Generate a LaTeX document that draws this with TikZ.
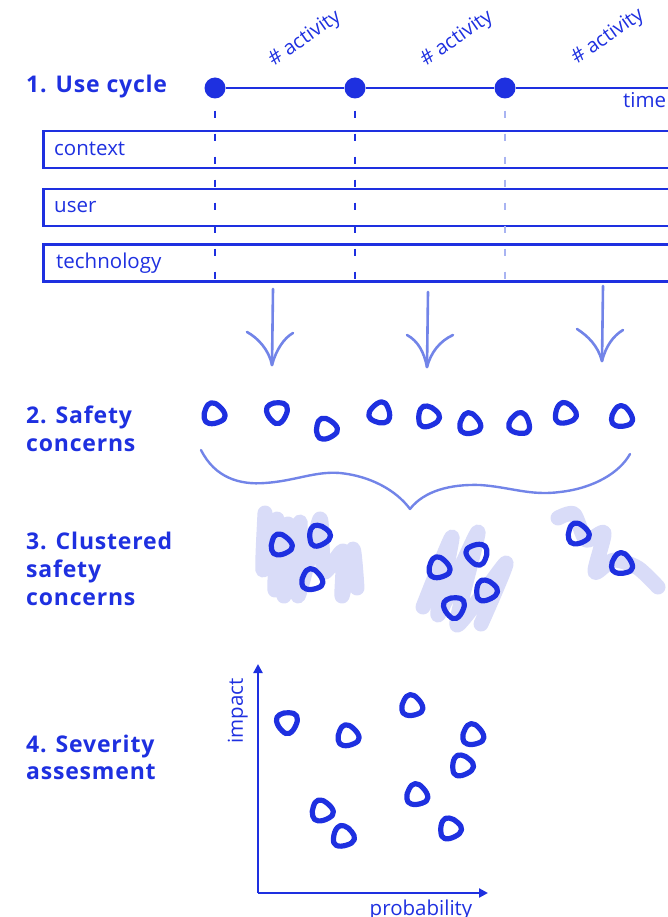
\documentclass[tikz,border=0pt]{standalone}
\usepackage{fontspec}
\setmainfont{Open Sans}
\usetikzlibrary{arrows.meta}
\definecolor{ink}{HTML}{1E30E0}
\definecolor{softink}{HTML}{7284E8}
\definecolor{paleink}{HTML}{A9B4F2}
\definecolor{haze}{HTML}{D9DCF8}
\begin{document}
\begin{tikzpicture}[x=1pt,y=-1pt,
  heading/.style={anchor=base west, inner sep=0pt, text=ink,
    font=\bfseries\fontsize{23}{28}\selectfont\addfontfeatures{LetterSpace=3.5}},
  plain/.style={inner sep=0pt, text=ink, font=\fontsize{20.5}{24}\selectfont},
  slanted/.style={plain, rotate=35, font=\fontsize{20}{24}\selectfont},
  dot/.style={circle, fill=ink, minimum size=21pt, inner sep=0pt},
  timeline/.style={draw=ink, line width=2.5pt},
  lanebox/.style={draw=ink, line width=2.5pt, minimum width=680pt,
    minimum height=37pt, anchor=north west, inner sep=0pt},
  tick/.style={draw=ink, line width=1.4pt, dash pattern=on 7pt off 16pt},
  paletick/.style={tick, draw=paleink},
  flow/.style={draw=softink, line width=2.6pt, line cap=round, line join=round},
  scribble/.style={draw=haze, line width=15pt, line cap=round, line join=round},
  blobline/.style={draw=ink, line width=5.2pt, line cap=round, line join=round},
  blob/.pic={\draw[blobline] plot[smooth cycle, tension=0.75] coordinates
    {(-1,-10.5) (6.5,-5.5) (10.5,4.5) (4.5,9.5) (-6.5,9.5) (-10.5,3.5) (-7.5,-5.5)};},
  axis/.style={draw=ink, line width=2.4pt,
    -{Triangle[length=9pt,width=9pt]}}
]
\clip (0,0) rectangle (668,917);

% ---------- 1. use cycle ----------
\node[heading] (h1) at (26,93) {1. Use cycle};

\node[dot] (d1) at (215,88) {};
\node[dot] (d2) at (355,88) {};
\node[dot] (d3) at (505,88) {};
\coordinate (tend) at (690,88);
\draw[timeline] (d1) -- (d2) -- (d3) -- (tend);
\node[plain, anchor=base west] (time) at (623,108) {time};

\node[slanted] (a1) at (305,39) {\# activity};
\node[slanted] (a2) at (457,39) {\# activity};
\node[slanted] (a3) at (608,37) {\# activity};

\node[lanebox] (ctx) at (42,130) {};
\node[lanebox] (usr) at (42,188) {};
\node[lanebox] (tech) at (42,243) {};
\node[plain, anchor=base west] (lctx) at (54,156) {context};
\node[plain, anchor=base west] (lusr) at (54,213) {user};
\node[plain, anchor=base west] (ltech) at (56,268) {technology};

\coordinate (t1) at (215,282);
\coordinate (t2) at (355,282);
\coordinate (t3) at (505,282);
\draw[tick] ([yshift=-12pt]d1.south) -- (t1);
\draw[tick] ([yshift=-12pt]d2.south) -- (t2);
\draw[paletick] ([yshift=-12pt]d3.south) -- (t3);

% ---------- downward arrows ----------
\coordinate (f1) at (273,289); \coordinate (g1) at (272,365);
\coordinate (f2) at (428,292); \coordinate (g2) at (427,367);
\coordinate (f3) at (603,286); \coordinate (g3) at (602,361);
\draw[flow] (f1) -- (g1);
\draw[flow] (247,332) .. controls (258,338) and (269,350) .. (g1)
            .. controls (276,350) and (284,338) .. (293,333);
\draw[flow] (f2) -- (g2);
\draw[flow] (407,335) .. controls (418,341) and (424,352) .. (g2)
            .. controls (431,352) and (440,341) .. (453,335);
\draw[flow] (f3) -- (g3);
\draw[flow] (577,329) .. controls (588,336) and (598,346) .. (g3)
            .. controls (606,346) and (613,336) .. (623,330);

% ---------- 2. safety concerns ----------
\node[heading] (h2a) at (26,423) {2. Safety};
\node[heading] (h2b) at (26,451) {concerns};

\pic[rotate=10] at (214,413) {blob};
\pic[rotate=-60] at (278,412) {blob};
\pic[rotate=20] at (326,428) {blob};
\pic[rotate=100] at (379,413) {blob};
\pic[rotate=-100] at (429,417) {blob};
\pic[rotate=5] at (470,423) {blob};
\pic[rotate=-15] at (520,423) {blob};
\pic[rotate=-110] at (566,414) {blob};
\pic[rotate=0] at (622,416) {blob};

% brace gathering the concerns
\draw[flow, line width=2.4pt] (201,450) .. controls (215,478) and (240,485) .. (265,483)
  .. controls (295,481) and (315,471) .. (340,473)
  .. controls (370,476) and (396,490) .. (410,509)
  .. controls (424,491) and (450,484) .. (480,485)
  .. controls (510,487) and (530,496) .. (560,492)
  .. controls (595,488) and (620,472) .. (630,454);

% ---------- 3. clustered safety concerns ----------
\node[heading] (h3a) at (26,549) {3. Clustered};
\node[heading] (h3b) at (26,577) {safety};
\node[heading] (h3c) at (26,605) {concerns};

\draw[scribble] plot[smooth, tension=0.35] coordinates {(265,513) (263,570) (277,519)
  (275,590) (288,524) (284,596) (300,522) (298,596) (320,519) (324,572)
  (343,551) (342,596) (353,549) (357,588)};
\draw[scribble] plot[smooth, tension=0.35] coordinates {(423,607) (452,537) (438,615)
  (478,532) (457,625) (506,563) (481,624)};
\draw[scribble] plot[smooth, tension=0.45] coordinates {(558,518) (574,514) (586,540)
  (604,533) (595,572) (614,560) (638,568) (658,587)};

\pic[rotate=15] at (281,544) {blob};
\pic[rotate=-95] at (320,536) {blob};
\pic[rotate=5] at (312,579) {blob};
\pic[rotate=10] at (439,567) {blob};
\pic[rotate=-170] at (477,555) {blob};
\pic[rotate=-100] at (487,591) {blob};
\pic[rotate=-60] at (455,607) {blob};
\pic[rotate=15] at (578,533) {blob};
\pic[rotate=0] at (622,563) {blob};

% ---------- 4. severity assessment ----------
\node[heading] (h4a) at (26,752) {4. Severity};
\node[heading] (h4b) at (26,779) {assesment};

\coordinate (origin) at (258,893);
\coordinate (ytop) at (258,664);
\coordinate (xend) at (488,893);
\draw[axis] (origin) -- (ytop);
\draw[axis] (origin) -- (xend);
\node[plain, rotate=90, anchor=south] (yl) at (248,711) {impact};
\node[plain, anchor=base] (xl) at (421,915) {probability};

\pic[rotate=-60] at (288,722) {blob};
\pic[rotate=10] at (348,735) {blob};
\pic[rotate=5] at (412,705) {blob};
\pic[rotate=5] at (473,734) {blob};
\pic[rotate=-100] at (463,766) {blob};
\pic[rotate=5] at (417,794) {blob};
\pic[rotate=15] at (322,810) {blob};
\pic[rotate=-110] at (344,837) {blob};
\pic[rotate=-100] at (451,829) {blob};
\end{tikzpicture}
\end{document}
